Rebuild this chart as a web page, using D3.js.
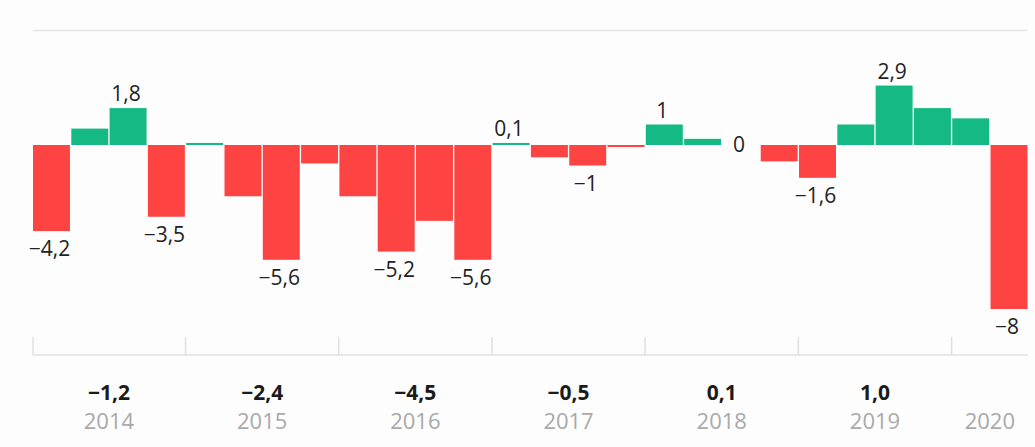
<!DOCTYPE html>
<html>
<head>
<meta charset="utf-8">
<script src="https://cdn.jsdelivr.net/npm/d3@7/dist/d3.min.js"></script>
<style>
  html, body { margin: 0; padding: 0; background: #fdfdfd; }
  svg { display: block; }
  text { font-family: "Open Sans", "Noto Sans", sans-serif; }
</style>
</head>
<body>
<svg id="chart" width="1035" height="447"></svg>
<script>
// Quarterly values (2014 Q1 … 2020 Q2)
const quarters = [
  "2014 Q1","2014 Q2","2014 Q3","2014 Q4",
  "2015 Q1","2015 Q2","2015 Q3","2015 Q4",
  "2016 Q1","2016 Q2","2016 Q3","2016 Q4",
  "2017 Q1","2017 Q2","2017 Q3","2017 Q4",
  "2018 Q1","2018 Q2","2018 Q3","2018 Q4",
  "2019 Q1","2019 Q2","2019 Q3","2019 Q4",
  "2020 Q1","2020 Q2"
];
const values = [
  -4.2, 0.8, 1.8, -3.5,
  0.1, -2.5, -5.6, -0.9,
  -2.5, -5.2, -3.7, -5.6,
  0.1, -0.6, -1.0, -0.1,
  1.0, 0.3, 0.0, -0.8,
  -1.6, 1.0, 2.9, 1.8,
  1.3, -8.0
];
// which bars carry a value label
const showLabel = [
  1,0,1,1,
  0,0,1,0,
  0,1,0,1,
  1,0,1,0,
  1,0,1,0,
  1,0,1,0,
  0,1
];
// Years, their first bar index, bar count and annual value
const years = ["2014","2015","2016","2017","2018","2019","2020"];
const yearStart = [0, 4, 8, 12, 16, 20, 24];
const yearCount = [4, 4, 4, 4, 4, 4, 2];
const yearTotals = [-1.2, -2.4, -4.5, -0.5, 0.1, 1.0, null];

const locale = d3.formatLocale({decimal: ",", thousands: " ", grouping: [3], currency: ["", ""]});
const fmtBar = locale.format(".1~f");
const fmtYear = locale.format(".1f");

const svg = d3.select("#chart");
const left = 33, right = 1027.5;
const zeroY = 145, k = 20.5;

const x = d3.scaleBand().domain(d3.range(values.length)).range([left, right]).paddingInner(0.035).paddingOuter(0);
const y = d3.scaleLinear().domain([-8, 3]).range([zeroY + 8 * k, zeroY - 3 * k]);

const RED = "#fe4343", GREEN = "#14b984";

// top gridline
svg.append("line")
  .attr("x1", left).attr("x2", right)
  .attr("y1", 30.5).attr("y2", 30.5)
  .attr("stroke", "#e6e6e6").attr("stroke-width", 1.5);

// bars
svg.append("g").selectAll("rect")
  .data(values)
  .join("rect")
  .attr("x", (d, i) => x(i))
  .attr("width", x.bandwidth())
  .attr("y", d => d >= 0 ? y(d) : y(0))
  .attr("height", d => Math.abs(y(d) - y(0)))
  .attr("fill", d => d >= 0 ? GREEN : RED);

// bar labels
svg.append("g").selectAll("text")
  .data(values.map((v, i) => ({v, i})).filter(d => showLabel[d.i]))
  .join("text")
  .attr("x", d => x(d.i) + x.bandwidth() / 2 - 2)
  .attr("y", d => d.v === 0 ? y(0) + 7 : (d.v > 0 ? y(d.v) - 7 : y(d.v) + 25))
  .attr("text-anchor", "middle")
  .attr("font-size", 21)
  .attr("fill", "#222")
  .text(d => fmtBar(d.v));

// bottom axis line with year ticks
const axisY = 355;
const step = x.step();
const axis = svg.append("g");
axis.append("line")
  .attr("x1", left).attr("x2", right)
  .attr("y1", axisY).attr("y2", axisY)
  .attr("stroke", "#e0e0e0").attr("stroke-width", 1.5);
axis.selectAll("line.tick")
  .data(yearStart)
  .join("line")
  .attr("class", "tick")
  .attr("x1", d => x(d) - (d === 0 ? 0 : (step - x.bandwidth()) / 2))
  .attr("x2", d => x(d) - (d === 0 ? 0 : (step - x.bandwidth()) / 2))
  .attr("y1", 337).attr("y2", axisY)
  .attr("stroke", "#e0e0e0").attr("stroke-width", 1.5);

// year labels and annual values
const yearCenter = (i) => {
  const a = x(yearStart[i]);
  const b = x(yearStart[i] + yearCount[i] - 1) + x.bandwidth();
  return (a + b) / 2;
};
svg.append("g").selectAll("text")
  .data(years.map((yr, i) => ({yr, i})).filter(d => yearTotals[d.i] !== null))
  .join("text")
  .attr("x", d => yearCenter(d.i))
  .attr("y", 400)
  .attr("text-anchor", "middle")
  .attr("font-size", 21)
  .attr("font-weight", 700)
  .attr("fill", "#1b1b1b")
  .text(d => fmtYear(yearTotals[d.i]));

svg.append("g").selectAll("text")
  .data(years.map((yr, i) => ({yr, i})))
  .join("text")
  .attr("x", d => yearCenter(d.i))
  .attr("y", 429)
  .attr("text-anchor", "middle")
  .attr("font-size", 22)
  .attr("fill", "#a9a9a9")
  .text(d => d.yr);
</script>
</body>
</html>
